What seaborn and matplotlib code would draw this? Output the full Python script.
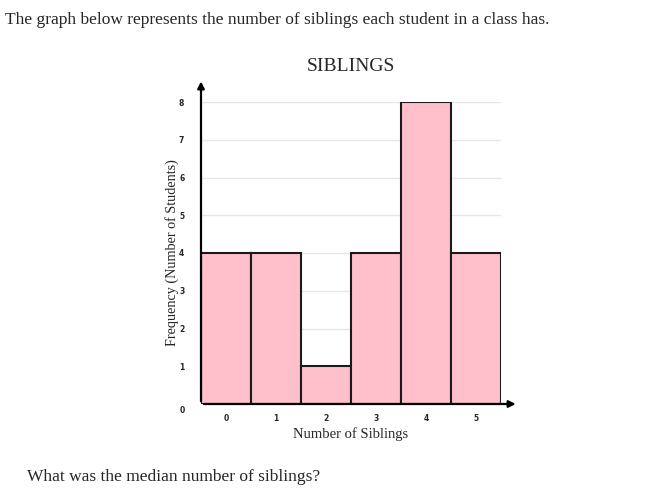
import numpy as np
import pandas as pd
import matplotlib
matplotlib.use("Agg")
import matplotlib.pyplot as plt
import seaborn as sns

# values
siblings = [0, 1, 2, 3, 4, 5]
frequency = [4, 4, 1, 4, 8, 4]
y_ticks = [1, 2, 3, 4, 5, 6, 7, 8]

df = pd.DataFrame({"Siblings": siblings, "Frequency": frequency})

sns.set_style("white")
plt.rcParams["font.family"] = ["Liberation Serif", "DejaVu Serif"]

W, H = 654, 499
fig = plt.figure(figsize=(W / 100, H / 100), dpi=100)
ax = fig.add_axes([201 / W, 1 - 404 / H, 300 / W, 302 / H])

sns.histplot(data=df, x="Siblings", weights="Frequency", discrete=True,
             color="#FFC0CB", alpha=1, edgecolor="#1a1a1a", linewidth=1.5,
             ax=ax, zorder=2)

ax.set_xlim(-0.5, 5.5)
ax.set_ylim(0, 8)
for v in y_ticks:
    ax.axhline(v, color="#e6e6e6", lw=1, zorder=0)

for s in ax.spines.values():
    s.set_visible(False)
ax.set_xticks(siblings)
ax.set_yticks(y_ticks)
ax.tick_params(length=0)
tick_font = dict(family="DejaVu Sans", size=5.5, weight="bold")
ax.set_xticklabels([str(s) for s in siblings], **tick_font)
ax.set_yticklabels([str(v) for v in y_ticks], **tick_font)
ax.tick_params(axis="x", pad=7)
ax.tick_params(axis="y", pad=12)
ax.text(-0.82, -0.04, "0", ha="right", va="top", **tick_font)

# axis arrows
ax.annotate("", xy=(5.85, 0), xytext=(-0.5, 0), xycoords="data",
            arrowprops=dict(arrowstyle="-|>", color="black", lw=1.6,
                            mutation_scale=10), annotation_clip=False)
ax.annotate("", xy=(-0.5, 8.62), xytext=(-0.5, 0), xycoords="data",
            arrowprops=dict(arrowstyle="-|>", color="black", lw=1.6,
                            mutation_scale=10), annotation_clip=False)

ax.set_xlabel("Number of Siblings", fontsize=10.5, labelpad=3)
ax.set_ylabel("Frequency (Number of Students)", fontsize=10.2, labelpad=0)
ax.set_title("SIBLINGS", fontsize=14, pad=22)

fig.text(5 / W, 1 - 20 / H,
         "The graph below represents the number of siblings each student in a class has.",
         fontsize=12.5, va="center", ha="left")
fig.text(27 / W, 1 - 477 / H, "What was the median number of siblings?",
         fontsize=12.5, va="center", ha="left")

fig.savefig("out.png", dpi=100)
